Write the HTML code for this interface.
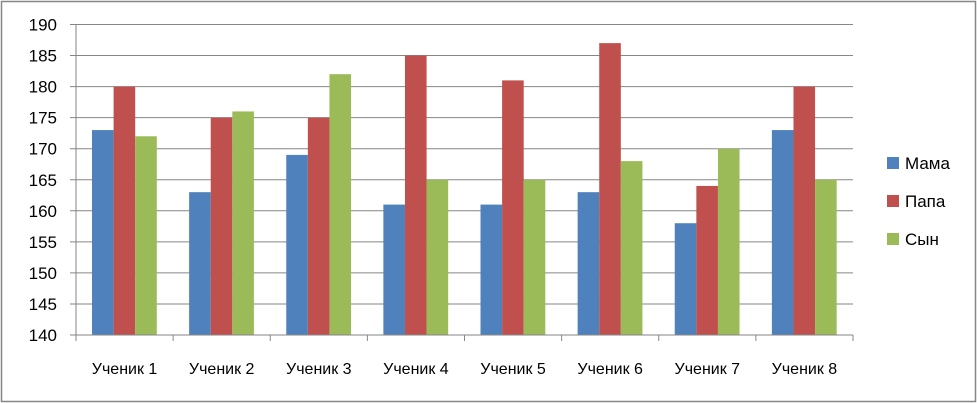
<!DOCTYPE html>
<html><head><meta charset="utf-8"><style>
body{margin:0;background:#fff}
svg{display:block;font-family:"Liberation Sans","DejaVu Sans",sans-serif}
</style></head><body>
<svg id="chart" width="977" height="403">
<rect x="1.5" y="1.5" width="974" height="400" fill="#fff" stroke="#868686" stroke-width="1.5"/>
<g id="grid"></g><g id="bars"></g><g id="axes"></g><g id="legend"></g>
</svg>
<script>
const categories=["Ученик 1","Ученик 2","Ученик 3","Ученик 4","Ученик 5","Ученик 6","Ученик 7","Ученик 8"];
const mama=[173,163,169,161,161,163,158,173];
const papa=[180,175,175,185,181,187,164,180];
const syn=[172,176,182,165,165,168,170,165];
const seriesNames=["Мама","Папа","Сын"];
const yTicks=[140,145,150,155,160,165,170,175,180,185,190];
const colors=["#4f81bd","#c0504d","#9bbb59"];
const NS="http://www.w3.org/2000/svg";
const X0=76,X1=853,Y0=335,Y1=24.5,ymin=140,ymax=190;
const bw=(X1-X0)/categories.length;
function y(v){return Y0-(v-ymin)/(ymax-ymin)*(Y0-Y1);}
function mk(t,a,p){const e=document.createElementNS(NS,t);for(const k in a)e.setAttribute(k,a[k]);p.appendChild(e);return e;}
const grid=document.getElementById('grid'),bars=document.getElementById('bars'),axes=document.getElementById('axes'),legend=document.getElementById('legend');
yTicks.forEach(v=>{
 const l=mk('line',{x1:X0-6,x2:X1,y1:y(v),y2:y(v),stroke:'#868686','stroke-width':1},grid);
 
 
 const t=mk('text',{x:57,y:y(v)+6,'text-anchor':'end','font-size':17,fill:'#000'},axes);
 t.textContent=v;
 
 
});
const data=[mama,papa,syn];
const barW=21.6,off=16;
categories.forEach((c,i)=>{
 const cx=X0+i*bw;
 data.forEach((s,j)=>{
  const r=mk('rect',{x:cx+off+j*barW,y:y(s[i]),width:barW,height:Y0-y(s[i]),fill:colors[j]},bars);
  
  
 });
 const t=mk('text',{x:cx+bw/2,y:374,'text-anchor':'middle','font-size':16,fill:'#000'},axes);
 t.textContent=c;
 
 
});
for(let i=0;i<=categories.length;i++){
 const tk=mk('line',{x1:X0+i*bw,x2:X0+i*bw,y1:Y0,y2:Y0+6,stroke:'#868686'},axes);
 
 
}
const ya=mk('line',{x1:X0,x2:X0,y1:Y1,y2:Y0,stroke:'#868686'},axes);


const xa=mk('line',{x1:X0,x2:X1,y1:Y0,y2:Y0,stroke:'#868686'},axes);


seriesNames.forEach((n,j)=>{
 const ly=163+j*38;
 const r=mk('rect',{x:887,y:ly-6,width:12,height:12,fill:colors[j]},legend);
 
 
 const t=mk('text',{x:905,y:ly+6,'font-size':17,fill:'#000'},legend);
 t.textContent=n;
 
 
});
</script>
</body></html>
